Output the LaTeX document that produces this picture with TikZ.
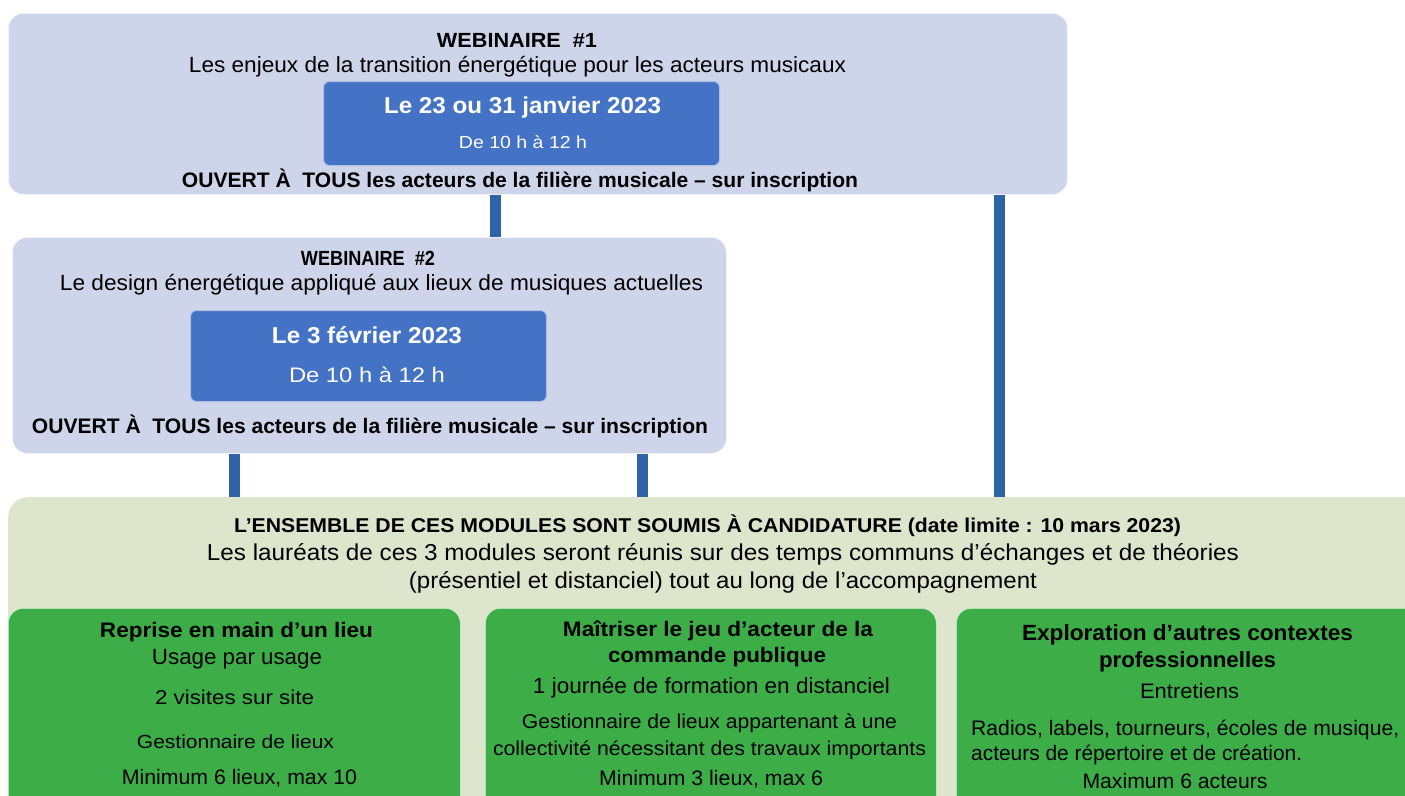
\documentclass[tikz,border=0pt]{standalone}
\usepackage{fontspec}
\setmainfont{Liberation Sans}
\usepackage{graphicx}
\definecolor{lav}{HTML}{CED4E9}
\definecolor{blu}{HTML}{4472C4}
\definecolor{conn}{HTML}{2E63A7}
\definecolor{pale}{HTML}{DDE6CC}
\definecolor{grn}{HTML}{3DAD48}
\newcommand\fw[2]{\resizebox{#1pt}{\height}{#2}}
\newcommand\fsz[1]{\fontsize{#1}{#1}\selectfont}
\begin{document}
\begin{tikzpicture}[x=1pt,y=-1pt,
  lavbox/.style={draw=white!75!lav, line width=0.8pt, fill=lav, rounded corners=15pt, inner sep=0pt, anchor=north west},
  datebox/.style={draw=white!55!blu, line width=1pt, fill=blu, rounded corners=6pt, inner sep=0pt, anchor=north west},
  palebox/.style={fill=pale, rounded corners=20pt, inner sep=0pt, anchor=north west},
  grnbox/.style={fill=grn, draw=white!80!grn, line width=0.6pt, rounded corners=15pt, inner sep=0pt, anchor=north west},
  txt/.style={inner sep=0pt, anchor=base, text=black},
  wtxt/.style={inner sep=0pt, anchor=base, text=white},
  ltxt/.style={inner sep=0pt, anchor=base west, text=black},
  connector/.style={draw=conn, line width=11pt}]
\useasboundingbox (0,0) rectangle (1405,795);
\clip (0,0) rectangle (1405,795);

% boxes
\node[lavbox, minimum width=1059pt, minimum height=181pt] (w1) at (8,13) {};
\node[datebox, minimum width=396pt, minimum height=84pt] (d1) at (323,81) {};
\node[lavbox, minimum width=714pt, minimum height=216pt] (w2) at (12,237) {};
\node[datebox, minimum width=356pt, minimum height=91pt] (d2) at (190,310) {};
\node[palebox, minimum width=1440pt, minimum height=340pt] (ens) at (8,497) {};
\node[grnbox, minimum width=452pt, minimum height=230pt] (ga) at (8,608) {};
\node[grnbox, minimum width=451pt, minimum height=230pt] (gb) at (485,608) {};
\node[grnbox, minimum width=480pt, minimum height=230pt] (gc) at (956,608) {};

% connectors
\coordinate (x1) at (495,0);
\coordinate (x2) at (999,0);
\coordinate (x3) at (234,0);
\coordinate (x4) at (642,0);
\draw[connector] (w1.south -| x1) -- (w2.north -| x1);
\draw[connector] (w1.south -| x2) -- (ens.north -| x2);
\draw[connector] (w2.south -| x3) -- (ens.north -| x3);
\draw[connector] (w2.south -| x4) -- (ens.north -| x4);

% webinaire 1
\node[txt, font=\fsz{20.5}\bfseries] (t1) at (517,48) {\fw{160}{WEBINAIRE\ \ \#1}};
\node[txt, font=\fsz{22}] (t2) at (517.5,72) {\fw{657}{Les enjeux de la transition énergétique pour les acteurs musicaux}};
\node[wtxt, font=\fsz{23}\bfseries] (t3) at (522.5,113) {\fw{277}{Le 23 ou 31 janvier 2023}};
\node[wtxt, font=\fsz{17.5}] (t4) at (523,148) {\fw{128}{De 10 h à 12 h}};
\node[txt, font=\fsz{21}\bfseries] (t5) at (520,187) {\fw{676}{OUVERT À\ \ TOUS les acteurs de la filière musicale – sur inscription}};

% webinaire 2
\node[txt, font=\fsz{20.5}\bfseries] (u1) at (368,265) {\fw{134}{WEBINAIRE\ \ \#2}};
\node[txt, font=\fsz{22}] (u2) at (381.5,290) {\fw{643}{Le design énergétique appliqué aux lieux de musiques actuelles}};
\node[wtxt, font=\fsz{23}\bfseries] (u3) at (367,343) {\fw{190}{Le 3 février 2023}};
\node[wtxt, font=\fsz{21}] (u4) at (367,382) {\fw{156}{De 10 h à 12 h}};
\node[txt, font=\fsz{21}\bfseries] (u5) at (370,433) {\fw{676}{OUVERT À\ \ TOUS les acteurs de la filière musicale – sur inscription}};

% ensemble
\node[txt, font=\fsz{20}\bfseries] (e1) at (707.5,532) {\fw{947}{L’ENSEMBLE DE CES MODULES SONT SOUMIS À CANDIDATURE (date limite : 10 mars 2023)}};
\node[txt, font=\fsz{23}] (e2) at (723,560) {\fw{1032}{Les lauréats de ces 3 modules seront réunis sur des temps communs d’échanges et de théories}};
\node[txt, font=\fsz{23}] (e3) at (723,588) {\fw{628}{(présentiel et distanciel) tout au long de l’accompagnement}};

% module A
\node[txt, font=\fsz{21}\bfseries] (a1) at (236.5,637) {\fw{273}{Reprise en main d’un lieu}};
\node[txt, font=\fsz{22}] (a2) at (237,664) {\fw{170}{Usage par usage}};
\node[txt, font=\fsz{20}] (a3) at (234.5,704) {\fw{159}{2 visites sur site}};
\node[txt, font=\fsz{19}] (a4) at (235.5,748) {\fw{197}{Gestionnaire de lieux}};
\node[txt, font=\fsz{21}] (a5) at (239.5,784) {\fw{235}{Minimum 6 lieux, max 10}};

% module B
\node[txt, font=\fsz{21}\bfseries] (b1) at (718,636) {\fw{310}{Maîtriser le jeu d’acteur de la}};
\node[txt, font=\fsz{21}\bfseries] (b2) at (717,662) {\fw{218}{commande publique}};
\node[txt, font=\fsz{22}] (b3) at (711.5,693) {\fw{357}{1 journée de formation en distanciel}};
\node[txt, font=\fsz{20}] (b4) at (709.5,728) {\fw{375}{Gestionnaire de lieux appartenant à une}};
\node[txt, font=\fsz{20}] (b5) at (709.5,755) {\fw{433}{collectivité nécessitant des travaux importants}};
\node[txt, font=\fsz{21}] (b6) at (711,785) {\fw{224}{Minimum 3 lieux, max 6}};

% module C
\node[txt, font=\fsz{22}\bfseries] (c1) at (1187.5,640) {\fw{331}{Exploration d’autres contextes}};
\node[txt, font=\fsz{22}\bfseries] (c2) at (1187.5,667) {\fw{177}{professionnelles}};
\node[txt, font=\fsz{21}] (c3) at (1189.5,698) {\fw{99}{Entretiens}};
\node[ltxt, font=\fsz{21}] (c4) at (971,735) {\fw{428}{Radios, labels, tourneurs, écoles de musique,}};
\node[ltxt, font=\fsz{21}] (c5) at (971,760) {\fw{331}{acteurs de répertoire et de création.}};
\node[txt, font=\fsz{21}] (c6) at (1175,788) {\fw{185}{Maximum 6 acteurs}};
\end{tikzpicture}
\end{document}
